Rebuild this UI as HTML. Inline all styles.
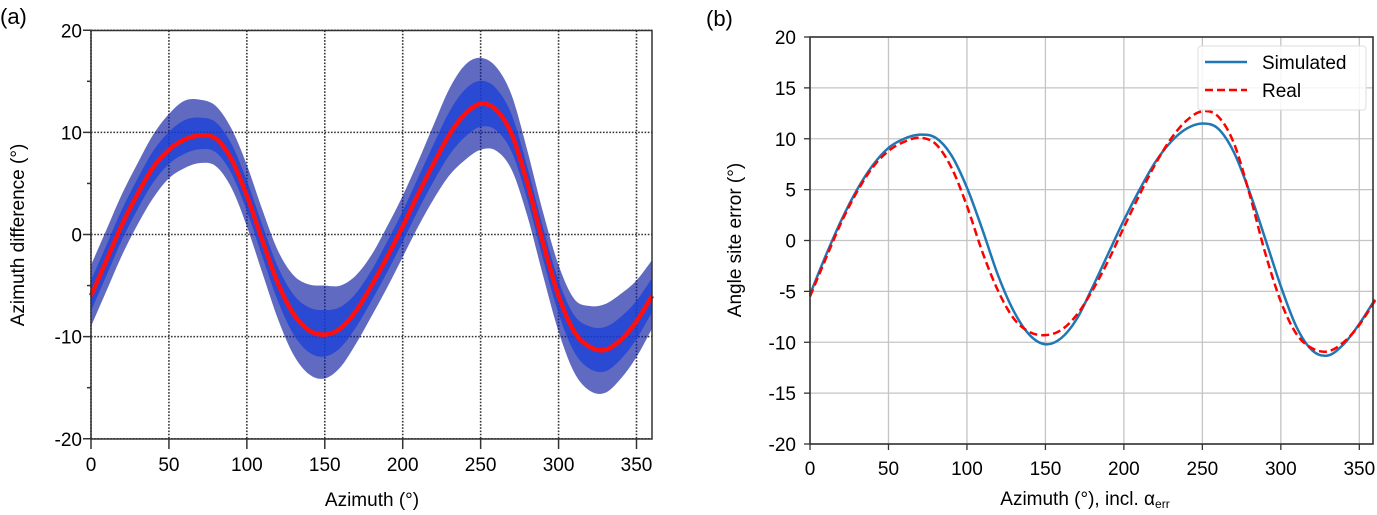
<!DOCTYPE html>
<html><head><meta charset="utf-8"><style>
body{margin:0;background:#fff;}
svg{display:block;font-family:"Liberation Sans",sans-serif;}
</style></head><body>
<svg id="fig" width="1377" height="515" viewBox="0 0 1377 515">
<text x="0" y="24" font-size="22" fill="#000">(a)</text>
<text x="706" y="26" font-size="22" fill="#000">(b)</text>
<g id="pa"></g>
<g id="pb"></g>
</svg>
<script>
const azimuth=[0,10,20,30,40,50,60,70,80,90,100,110,120,130,140,150,160,170,180,190,200,210,220,230,240,250,260,270,280,290,300,310,320,330,340,350,360];
const fitA=[-6,-2.5,1,4,6.6,8.3,9.3,9.7,9.4,7.4,3.8,-0.6,-4.8,-7.8,-9.4,-9.8,-9.2,-7.5,-5,-2.2,0.8,4,7,9.8,11.8,12.8,12.2,9.8,5,-0.8,-6,-9.5,-11,-11.3,-10.3,-8.5,-6];
const spreadUp=[3,3,3,3,3.2,3.5,3.8,3.5,3.2,3,3,3,3.2,3.8,4.5,4.8,4.2,3.5,3,3,3,3.2,3.8,4.5,4.8,4.5,4.2,3.8,3.2,3,3,3.2,4,4.5,4.5,4,3.5];
const spreadDown=[3,3,3,3,3,2.8,2.8,2.7,2.7,2.8,3,3.2,3.5,4,4.3,4.3,3.8,3.2,3,3,3,3.2,3.5,4,4.5,4.5,4,3.5,3.2,3.2,3.5,4,4.3,4.2,3.8,3.5,3.2];
const simulated=[-5.3,-1.5,2.0,5.0,7.4,9.1,10.0,10.4,10.1,8.4,5.2,1.0,-3.5,-7.0,-9.3,-10.2,-9.6,-7.7,-4.6,-1.3,2.0,5.0,7.7,9.7,11.0,11.5,11.0,8.7,4.8,0.2,-4.5,-8.5,-10.8,-11.3,-10.2,-8.2,-5.8];
const real=[-5.5,-1.8,1.8,4.8,7.2,8.8,9.7,10.1,9.5,7.2,3.4,-1.2,-5.0,-7.7,-9.0,-9.3,-8.8,-7.3,-4.9,-2.0,1.3,4.5,7.5,10.0,11.8,12.7,12.2,9.6,4.6,-1.2,-6.0,-9.2,-10.6,-10.9,-10.0,-8.3,-5.9];
const xTicks=[0,50,100,150,200,250,300,350];
const yTicksA=[-20,-10,0,10,20];
const yTicksB=[-20,-15,-10,-5,0,5,10,15,20];

const NS="http://www.w3.org/2000/svg";
function mk(p,t,a){const e=document.createElementNS(NS,t);for(const k in a)e.setAttribute(k,a[k]);p.appendChild(e);return e;}
function smooth(pts){let d="M"+pts[0][0]+","+pts[0][1];for(let i=0;i<pts.length-1;i++){const p0=pts[i-1]||pts[i],p1=pts[i],p2=pts[i+1],p3=pts[i+2]||p2;d+=" C"+(p1[0]+(p2[0]-p0[0])/6)+","+(p1[1]+(p2[1]-p0[1])/6)+" "+(p2[0]-(p3[0]-p1[0])/6)+","+(p2[1]-(p3[1]-p1[1])/6)+" "+p2[0]+","+p2[1];}return d;}

// Panel A
const A={l:91,r:652,t:30.5,b:439};
const xa=v=>A.l+v*(636.5-91)/350, ya=v=>234.5-v*(A.b-A.t)/40;
const pa=document.getElementById('pa');
xTicks.forEach(v=>{let g=mk(pa,'line',{x1:xa(v),x2:xa(v),y1:A.t,y2:A.b,stroke:'#333','stroke-width':1.6,'stroke-dasharray':'1.6,1.6'});
});
yTicksA.forEach(v=>{let g=mk(pa,'line',{x1:A.l,x2:A.r,y1:ya(v),y2:ya(v),stroke:'#333','stroke-width':1.6,'stroke-dasharray':'1.6,1.6'});
});
let up=azimuth.map((a,i)=>[xa(a),ya(fitA[i]+spreadUp[i])]);
let dn=azimuth.map((a,i)=>[xa(a),ya(fitA[i]-spreadDown[i])]).reverse();
let band=mk(pa,'path',{d:smooth(up)+" L"+smooth(dn).slice(1)+" Z",fill:'#0c1aa0',opacity:0.65});

let up2=azimuth.map((a,i)=>[xa(a),ya(fitA[i]+spreadUp[i]*0.5)]);
let dn2=azimuth.map((a,i)=>[xa(a),ya(fitA[i]-spreadDown[i]*0.5)]).reverse();
let band2=mk(pa,'path',{d:smooth(up2)+" L"+smooth(dn2).slice(1)+" Z",fill:'#1a40d8',opacity:0.75});

let fit=mk(pa,'path',{d:smooth(azimuth.map((a,i)=>[xa(a),ya(fitA[i])])),fill:'none',stroke:'#ff1010','stroke-width':4.5});

let fa=mk(pa,'rect',{x:A.l,y:A.t,width:A.r-A.l,height:A.b-A.t,fill:'none',stroke:'#333','stroke-width':1.5});

xTicks.forEach(v=>{mk(pa,'line',{x1:xa(v),x2:xa(v),y1:A.b,y2:A.b+10,stroke:'#333','stroke-width':1.5});
let t=mk(pa,'text',{x:xa(v),y:471,'font-size':19,'text-anchor':'middle'});t.textContent=v;
});
[-20,-15,-10,-5,0,5,10,15,20].forEach(v=>mk(pa,'line',{x1:A.l-(v%10?4:8),x2:A.l,y1:ya(v),y2:ya(v),stroke:'#333','stroke-width':1.5}));
yTicksA.forEach(v=>{let t=mk(pa,'text',{x:82,y:ya(v)+7,'font-size':19,'text-anchor':'end'});t.textContent=v;
});
let xl=mk(pa,'text',{x:372,y:506,'font-size':19,'text-anchor':'middle'});xl.textContent="Azimuth (°)";

let yl=mk(pa,'text',{x:0,y:0,'font-size':19,'text-anchor':'middle',transform:'translate(24,235) rotate(-90)'});yl.textContent="Azimuth difference (°)";


// Panel B
const B={l:810,r:1373,t:37,b:444};
const xb=v=>B.l+v*(1359.3-810)/350, yb=v=>(B.t+B.b)/2-v*(B.b-B.t)/40;
const pb=document.getElementById('pb');
xTicks.forEach(v=>{let g=mk(pb,'line',{x1:xb(v),x2:xb(v),y1:B.t,y2:B.b,stroke:'#c4c4c4','stroke-width':1.3});
});
yTicksB.forEach(v=>{let g=mk(pb,'line',{x1:B.l,x2:B.r,y1:yb(v),y2:yb(v),stroke:'#c4c4c4','stroke-width':1.3});
});
let sim=mk(pb,'path',{d:smooth(azimuth.map((a,i)=>[xb(a),yb(simulated[i])])),fill:'none',stroke:'#1f77b4','stroke-width':2.5});

let rl=mk(pb,'path',{d:smooth(azimuth.map((a,i)=>[xb(a),yb(real[i])])),fill:'none',stroke:'#ff0000','stroke-width':2.5,'stroke-dasharray':'8,4'});

let fb=mk(pb,'rect',{x:B.l,y:B.t,width:B.r-B.l,height:B.b-B.t,fill:'none',stroke:'#333','stroke-width':1.6});

xTicks.forEach(v=>{mk(pb,'line',{x1:xb(v),x2:xb(v),y1:B.b,y2:B.b+6,stroke:'#333','stroke-width':1.3});
let t=mk(pb,'text',{x:xb(v),y:475,'font-size':19,'text-anchor':'middle'});t.textContent=v;
});
yTicksB.forEach(v=>{mk(pb,'line',{x1:B.l-6,x2:B.l,y1:yb(v),y2:yb(v),stroke:'#333','stroke-width':1.3});
let t=mk(pb,'text',{x:796,y:yb(v)+7,'font-size':19,'text-anchor':'end'});t.textContent=v;
});
let xlb=mk(pb,'text',{x:1085,y:505,'font-size':19,'text-anchor':'middle'});xlb.innerHTML='Azimuth (°), incl. α<tspan font-size="12" dy="3">err</tspan>';

let ylb=mk(pb,'text',{x:0,y:0,'font-size':19,'text-anchor':'middle',transform:'translate(741,240) rotate(-90)'});ylb.textContent="Angle site error (°)";

let lg=mk(pb,'g',{});

mk(lg,'rect',{x:1198,y:46,width:168,height:64,rx:3,fill:'#fff','fill-opacity':0.85,stroke:'#ddd','stroke-width':1});
let l1=mk(lg,'line',{x1:1205,x2:1247,y1:62,y2:62,stroke:'#1f77b4','stroke-width':2.5});

let t1=mk(lg,'text',{x:1262,y:69,'font-size':19});t1.textContent="Simulated";
let l2=mk(lg,'line',{x1:1205,x2:1247,y1:90,y2:90,stroke:'#ff0000','stroke-width':2.5,'stroke-dasharray':'8,4'});

let t2=mk(lg,'text',{x:1262,y:97,'font-size':19});t2.textContent="Real";
</script>
</body></html>
